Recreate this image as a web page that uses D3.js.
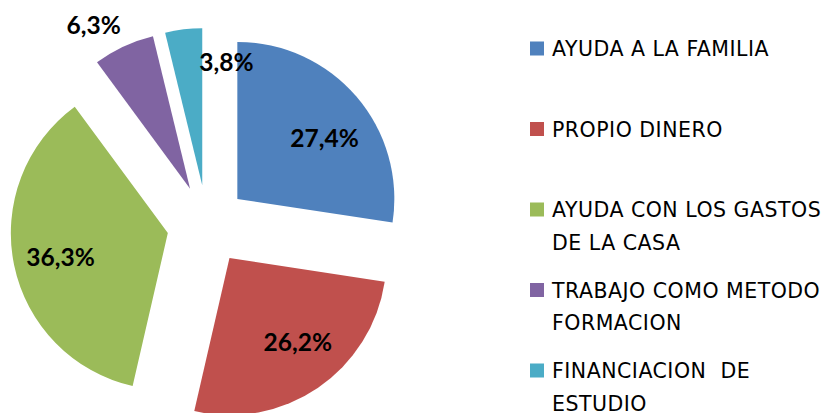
<!DOCTYPE html>
<html>
<head>
<meta charset="utf-8">
<script src="https://cdn.jsdelivr.net/npm/d3@7"></script>
<style>
  body { margin: 0; background: #fff; }
  svg { display: block; }
  .pct { font-family: Lato, "Open Sans", sans-serif; font-weight: bold; fill: #000; }
  .leg { font-family: "DejaVu Sans", "Open Sans", sans-serif; fill: #000; letter-spacing: 0.5px; }
</style>
</head>
<body>
<div id="chart"></div>
<script>
// data
var categories = ["AYUDA A LA FAMILIA", "PROPIO DINERO", "AYUDA CON LOS GASTOS DE LA CASA",
                  "TRABAJO COMO METODO FORMACION", "FINANCIACION  DE ESTUDIO"];
var values = [27.4, 26.2, 36.3, 6.3, 3.8];
var colors = ["#4F81BD", "#C0504D", "#9BBB59", "#8064A2", "#4BACC6"];

// label placement around each exploded slice: [angle shift in deg, distance from slice tip]
var labelSpots = [[6, 106], [-5, 108], [-1, 110], [-5.5, 190], [18, 125]];

var width = 834, height = 413;
var cx = 207, cy = 225, radius = 157, explode = 40;

var svg = d3.select("#chart").append("svg")
    .attr("width", width)
    .attr("height", height);

var fmt = d3.formatLocale({decimal: ",", thousands: ".", grouping: [3], currency: ["", "€"]}).format(".1f");

var pie = d3.pie().sort(null).value(function(d) { return d; });
var arc = d3.arc().innerRadius(0).outerRadius(radius);
var arcs = pie(values);

var g = svg.append("g").attr("transform", "translate(" + cx + "," + cy + ")");

var slice = g.selectAll("g.slice")
    .data(arcs)
    .enter()
    .append("g")
    .attr("class", "slice")
    .attr("transform", function(d) {
      var mid = (d.startAngle + d.endAngle) / 2;
      return "translate(" + (Math.sin(mid) * explode) + "," + (-Math.cos(mid) * explode) + ")";
    });

slice.append("path")
    .attr("d", arc)
    .attr("fill", function(d, i) { return colors[i]; });

slice.append("text")
    .attr("class", "pct")
    .attr("text-anchor", "middle")
    .attr("dy", "0.36em")
    .style("font-size", "24.5px")
    .attr("x", function(d, i) {
      var a = (d.startAngle + d.endAngle) / 2 + labelSpots[i][0] * Math.PI / 180;
      return Math.sin(a) * labelSpots[i][1];
    })
    .attr("y", function(d, i) {
      var a = (d.startAngle + d.endAngle) / 2 + labelSpots[i][0] * Math.PI / 180;
      return -Math.cos(a) * labelSpots[i][1];
    })
    .text(function(d) { return fmt(d.value) + "%"; });

// legend
var legX = 530, legY = 56, rowStep = 80.5, lineH = 32.5, maxW = 282;

var leg = svg.append("g").attr("class", "legend");

categories.forEach(function(name, i) {
  var y0 = legY + i * rowStep;
  leg.append("rect")
    .attr("x", legX)
    .attr("y", y0 - 14.5)
    .attr("width", 14)
    .attr("height", 14)
    .attr("fill", colors[i]);

  var t = leg.append("text")
    .attr("class", "leg")
    .attr("x", legX + 22)
    .attr("y", y0)
    .style("font-size", "20.5px")
    .attr("xml:space", "preserve");

  // simple word wrap
  var words = name.split(" "), line = "", lineNo = 0;
  var tspan = t.append("tspan").attr("x", legX + 22).attr("y", y0);
  words.forEach(function(w, k) {
    var test = line === "" ? w : line + " " + w;
    tspan.text(test);
    if (tspan.node().getComputedTextLength() > maxW && line !== "") {
      tspan.text(line);
      lineNo++;
      tspan = t.append("tspan").attr("x", legX + 22).attr("y", y0 + lineNo * lineH).text(w);
      line = w;
    } else {
      line = test;
    }
  });
});
</script>
</body>
</html>
